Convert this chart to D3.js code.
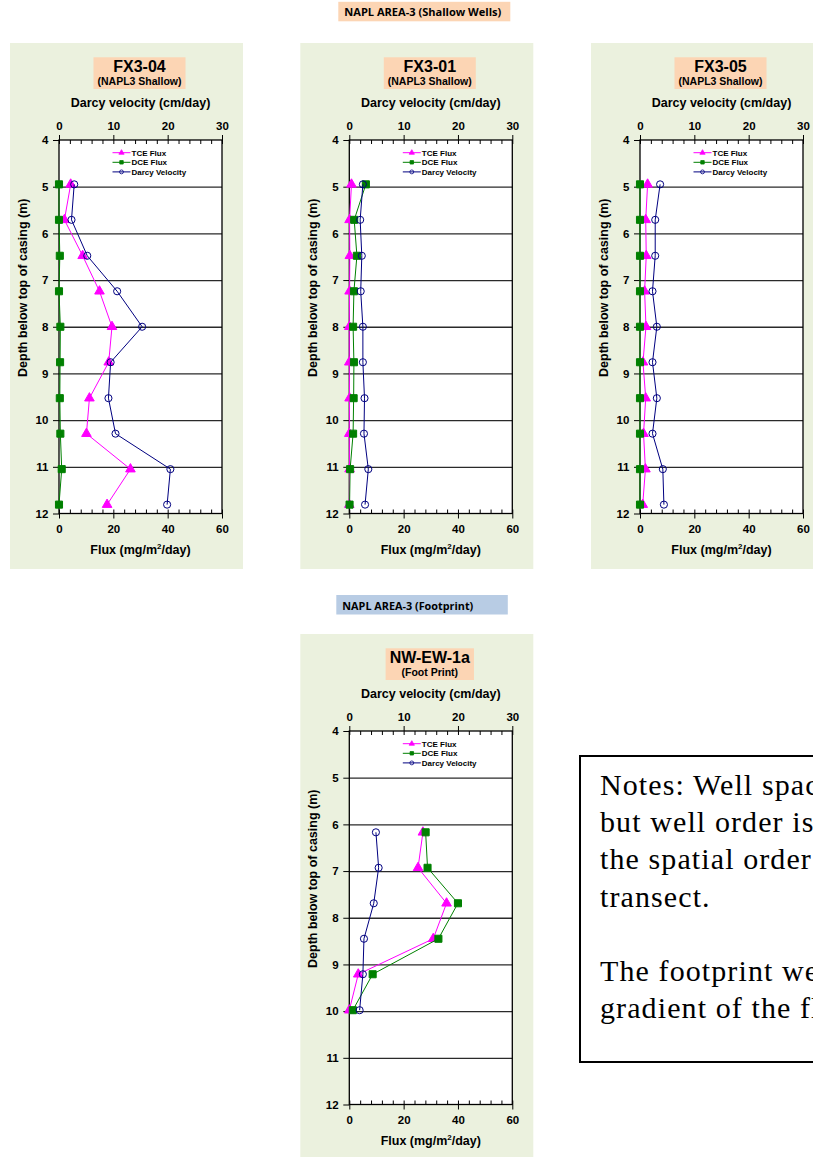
<!DOCTYPE html>
<html>
<head>
<meta charset="utf-8">
<script src="https://cdn.jsdelivr.net/npm/d3@7"></script>
<style>
  body { margin: 0; background: #fff; }
  svg { display: block; }
  text { font-family: "Liberation Sans", Arial, sans-serif; font-weight: bold; fill: #000; }
</style>
</head>
<body>
<script>
// depth of sampling intervals (m below top of casing)
const shallowDepth = [4.95, 5.71, 6.48, 7.24, 8.0, 8.76, 9.53, 10.29, 11.05, 11.81];
const footDepth = [6.17, 6.93, 7.69, 8.45, 9.21, 9.98];

// FX3-04
const fx304Tce = [4.3, 2.0, 8.7, 14.9, 19.5, 18.3, 11.2, 10.1, 26.3, 17.7];
const fx304Dce = [0.0, 0.0, 0.3, 0.0, 0.5, 0.4, 0.3, 0.5, 1.0, 0.0];
const fx304Darcy = [2.8, 2.3, 5.2, 10.7, 15.3, 9.5, 9.1, 10.4, 20.5, 19.9];

// FX3-01
const fx301Tce = [0.8, 0.1, 0.2, 0.1, 0.0, 0.0, 0.1, 0.0, 0.1, 0.0];
const fx301Dce = [6.1, 1.8, 2.8, 1.7, 1.4, 1.7, 1.6, 1.4, 0.3, 0.1];
const fx301Darcy = [2.5, 2.0, 2.3, 2.1, 2.5, 2.5, 2.8, 2.7, 3.5, 2.9];

// FX3-05
const fx305Tce = [2.8, 2.1, 2.3, 1.7, 2.2, 1.1, 2.1, 1.3, 2.0, 1.0];
const fx305Dce = [0.0, 0.0, 0.0, 0.0, 0.0, 0.0, 0.0, 0.0, 0.0, 0.0];
const fx305Darcy = [3.7, 2.8, 2.8, 2.3, 3.1, 2.3, 3.1, 2.3, 4.2, 4.4];

// NW-EW-1a (foot print)
const nwTce = [27.1, 25.3, 35.8, 30.9, 3.3, 0.0];
const nwDce = [28.1, 28.8, 40.0, 32.8, 8.6, 1.3];
const nwDarcy = [4.9, 5.4, 4.5, 2.7, 2.5, 1.9];

const depthTicks = [4, 5, 6, 7, 8, 9, 10, 11, 12];
const fluxTicks = [0, 20, 40, 60];
const darcyTicks = [0, 10, 20, 30];
const legendLabels = ["TCE Flux", "DCE Flux", "Darcy Velocity"];

const width = 813, height = 1157;
const PW = 163, PH = 373.5;

const svg = d3.select("body").append("svg")
  .attr("width", width)
  .attr("height", height);

// section headers
function header(text, x0, y, w, tw, fill) {
  svg.append("rect")
    .attr("x", x0).attr("y", y)
    .attr("width", w).attr("height", 19.5)
    .attr("fill", fill);
  svg.append("text")
    .attr("x", x0 + 6).attr("y", y + 14.5)
    .attr("font-size", 10.5)
    .attr("textLength", tw)
    .attr("lengthAdjust", "spacingAndGlyphs")
    .style("font-family", "'Open Sans', 'Noto Sans', sans-serif")
    .text(text);
}
header("NAPL AREA-3  (Shallow Wells)", 338.3, 1.8, 172, 157, "#fcd5b4");
header("NAPL AREA-3  (Footprint)", 336.3, 595, 171.5, 131, "#b8cce4");

function panel(left, top, name, sub, depth, tce, dce, darcy) {
  const g = svg.append("g");
  const x = d3.scaleLinear().domain([0, 60]).range([left, left + PW]);
  const xd = d3.scaleLinear().domain([0, 30]).range([left, left + PW]);
  const y = d3.scaleLinear().domain([4, 12]).range([top, top + PH]);
  const cx = left + PW / 2;

  g.append("rect")
    .attr("x", left - 49).attr("y", top - 97)
    .attr("width", 233).attr("height", 526)
    .attr("fill", "#ebf1de");

  // well title box
  const tg = g.append("g");
  const t1 = tg.append("text").attr("x", cx - 1).attr("y", top - 68.3)
    .attr("text-anchor", "middle").attr("font-size", 16).text(name);
  const t2 = tg.append("text").attr("x", cx - 1).attr("y", top - 55)
    .attr("text-anchor", "middle").attr("font-size", 10.5).text(sub);
  const w = Math.max(t1.node().getBBox().width, t2.node().getBBox().width) + 8;
  tg.insert("rect", "text")
    .attr("x", cx - 1 - w / 2).attr("y", top - 82.7)
    .attr("width", w).attr("height", 31.7)
    .attr("fill", "#fcd5b4");

  g.append("text").attr("x", cx).attr("y", top - 33.5)
    .attr("text-anchor", "middle").attr("font-size", 12.5)
    .text("Darcy velocity (cm/day)");

  g.append("rect")
    .attr("x", left).attr("y", top)
    .attr("width", PW).attr("height", PH)
    .attr("fill", "#fff");

  // horizontal gridlines
  g.append("g")
    .attr("transform", `translate(${left},0)`)
    .call(d3.axisLeft(y).tickValues(depthTicks.slice(1, -1)).tickSize(-PW).tickFormat(""))
    .call(s => s.select(".domain").remove())
    .call(s => s.selectAll("line").attr("stroke", "#2a2a2a").attr("stroke-width", 1.3));

  // top axis (Darcy velocity)
  g.append("g")
    .attr("transform", `translate(0,${top})`)
    .call(d3.axisTop(xd).tickValues(d3.range(0, 31, 2)).tickSize(-4).tickFormat(""))
    .call(s => s.select(".domain").remove());
  g.append("g")
    .attr("transform", `translate(0,${top})`)
    .call(d3.axisTop(xd).tickValues(darcyTicks).tickSize(5).tickPadding(5.5))
    .call(s => s.select(".domain").remove())
    .call(s => s.selectAll("text").attr("font-size", 11.5).style("font-family", null));

  // bottom axis (flux)
  g.append("g")
    .attr("transform", `translate(0,${top + PH})`)
    .call(d3.axisBottom(x).tickValues(d3.range(0, 61, 4)).tickSize(-4).tickFormat(""))
    .call(s => s.select(".domain").remove());
  g.append("g")
    .attr("transform", `translate(0,${top + PH})`)
    .call(d3.axisBottom(x).tickValues(fluxTicks).tickSize(5).tickPadding(6))
    .call(s => s.select(".domain").remove())
    .call(s => s.selectAll("text").attr("font-size", 11.5).style("font-family", null));

  // left axis (depth)
  g.append("g")
    .attr("transform", `translate(${left},0)`)
    .call(d3.axisLeft(y).tickValues(depthTicks).tickSize(6).tickPadding(4.7))
    .call(s => s.select(".domain").remove())
    .call(s => s.selectAll("text").attr("font-size", 11.5).style("font-family", null));

  g.selectAll(".tick line").filter(function () { return !this.getAttribute("stroke-width"); })
    .attr("stroke", "#000");
  g.selectAll(".tick text").attr("fill", "#000").attr("font-weight", "bold");

  g.append("rect")
    .attr("x", left).attr("y", top)
    .attr("width", PW).attr("height", PH)
    .attr("fill", "none").attr("stroke", "#000").attr("stroke-width", 1.3);

  g.append("text").attr("x", cx).attr("y", top + PH + 40.7)
    .attr("text-anchor", "middle").attr("font-size", 12.5)
    .call(s => s.append("tspan").text("Flux (mg/m"))
    .call(s => s.append("tspan").attr("font-size", 8).attr("dy", -5).text("2"))
    .call(s => s.append("tspan").attr("dy", 5).text("/day)"));

  g.append("text")
    .attr("transform", `translate(${left - 32.5},${top + PH / 2 - 39}) rotate(-90)`)
    .attr("text-anchor", "middle").attr("font-size", 12.5)
    .text("Depth below top of casing (m)");

  const series = [
    { vals: tce, sx: x, color: "#ff00ff", sym: d3.symbolTriangle, size: 40, fill: "#ff00ff" },
    { vals: dce, sx: x, color: "#008000", sym: d3.symbolSquare, size: 50, fill: "#008000" },
    { vals: darcy, sx: xd, color: "#000080", sym: d3.symbolCircle, size: 40, fill: "none" }
  ];

  const clip = "clip-" + name;
  g.append("clipPath").attr("id", clip)
    .append("rect").attr("x", left - 6).attr("y", top).attr("width", PW + 6).attr("height", PH + 6);
  const plot = g.append("g").attr("clip-path", `url(#${clip})`);

  series.forEach(s => {
    const pts = s.vals.map((v, i) => [s.sx(v), y(depth[i])]);
    plot.append("path")
      .attr("d", d3.line()(pts))
      .attr("fill", "none")
      .attr("stroke", s.color)
      .attr("stroke-width", 1);
    plot.selectAll(null).data(pts).join("path")
      .attr("transform", d => `translate(${d[0]},${d[1]})`)
      .attr("d", d3.symbol(s.sym, s.size)())
      .attr("fill", s.fill)
      .attr("stroke", s.color)
      .attr("stroke-width", 1);
  });

  // legend
  const lg = g.append("g").attr("transform", `translate(${left + 53.5},${top + 12.7})`);
  series.forEach((s, i) => {
    const ly = i * 9.6;
    lg.append("line").attr("x1", 0).attr("x2", 18).attr("y1", ly).attr("y2", ly)
      .attr("stroke", s.color).attr("stroke-width", 1);
    lg.append("path").attr("transform", `translate(9,${ly})`)
      .attr("d", d3.symbol(s.sym, 12)())
      .attr("fill", s.fill).attr("stroke", s.color).attr("stroke-width", 0.8);
    lg.append("text").attr("x", 19).attr("y", ly + 3)
      .attr("font-size", 8).text(legendLabels[i]);
  });
}

panel(59, 140, "FX3-04", "(NAPL3 Shallow)", shallowDepth, fx304Tce, fx304Dce, fx304Darcy);
panel(349.3, 140, "FX3-01", "(NAPL3 Shallow)", shallowDepth, fx301Tce, fx301Dce, fx301Darcy);
panel(640, 140, "FX3-05", "(NAPL3 Shallow)", shallowDepth, fx305Tce, fx305Dce, fx305Darcy);
panel(349.3, 731, "NW-EW-1a", "(Foot Print)", footDepth, nwTce, nwDce, nwDarcy);

// notes box (runs past the right edge of the page, as in the source)
const notes = [
  "Notes: Well spacing is not to scale,",
  "but well order is consistent with",
  "the spatial order of wells along the",
  "transect.",
  "",
  "The footprint well is located down-",
  "gradient of the flux transect."
];
svg.append("rect")
  .attr("x", 580).attr("y", 756)
  .attr("width", 320).attr("height", 306)
  .attr("fill", "#fff").attr("stroke", "#000").attr("stroke-width", 2);
svg.append("g").selectAll("text").data(notes).join("text")
  .attr("x", 600)
  .attr("y", (d, i) => 795 + i * 37.2)
  .style("font-family", "'Liberation Serif', 'Times New Roman', serif")
  .style("font-weight", "normal")
  .style("letter-spacing", "1.1px")
  .attr("font-size", 30)
  .text(d => d);
</script>
</body>
</html>
